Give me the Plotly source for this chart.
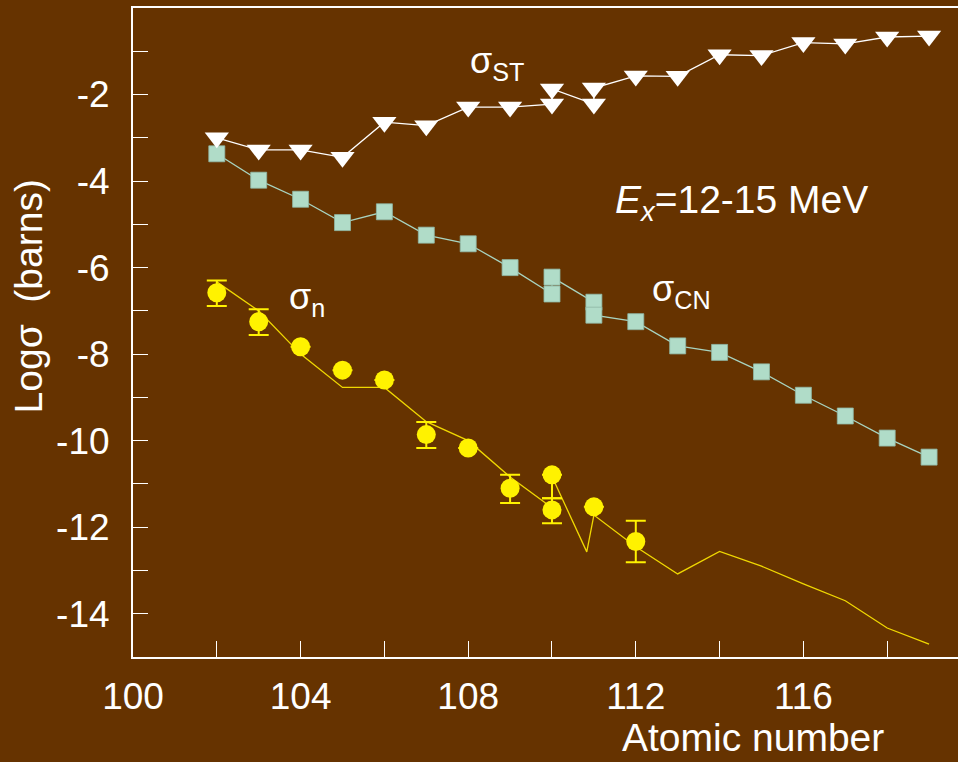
import plotly.graph_objects as go

# sigma_ST (triangles)
st_z = [102, 103, 104, 105, 106, 107, 108, 109, 110, 110, 111, 111, 112, 113, 114, 115, 116, 117, 118, 119]
st_v = [-3.0, -3.28, -3.28, -3.45, -2.64, -2.72, -2.29, -2.29, -2.22, -1.87, -2.22, -1.85, -1.57, -1.58, -1.08, -1.1, -0.8, -0.83, -0.67, -0.65]

# sigma_CN (squares)
cn_z = [102, 103, 104, 105, 106, 107, 108, 109, 110, 110, 111, 111, 112, 113, 114, 115, 116, 117, 118, 119]
cn_v = [-3.37, -3.98, -4.42, -4.96, -4.71, -5.25, -5.45, -6.0, -6.61, -6.22, -6.8, -7.1, -7.25, -7.81, -7.96, -8.41, -8.95, -9.43, -9.94, -10.38]

# sigma_n measured (circles) with asymmetric errors
n_z = [102, 103, 104, 105, 106, 107, 108, 109, 110, 110, 111, 112]
n_v = [-6.58, -7.25, -7.83, -8.37, -8.6, -9.86, -10.17, -11.1, -10.79, -11.6, -11.53, -12.33]
n_err_plus = [0.28, 0.29, 0, 0, 0, 0.29, 0, 0.31, 0, 0.27, 0, 0.48]
n_err_minus = [0.31, 0.31, 0, 0, 0, 0.31, 0, 0.34, 0.54, 0.31, 0, 0.48]

# sigma_n calculated (line)
th_z = [102, 103, 104, 105, 106, 107, 108, 109, 110, 110, 110.83, 111, 112, 113, 114, 115, 116, 117, 118, 119]
th_v = [-6.33, -7.0, -8.0, -8.77, -8.77, -9.56, -10.0, -10.84, -11.55, -10.83, -12.57, -11.72, -12.45, -13.08, -12.56, -12.9, -13.31, -13.7, -14.33, -14.7]

x_tick_vals = [100, 104, 108, 112, 116]
x_tick_text = ["100", "104", "108", "112", "116"]
y_tick_vals = [-14, -12, -10, -8, -6, -4, -2]
y_tick_text = ["-14", "-12", "-10", "-8", "-6", "-4", "-2"]

BG = "#663300"
FONT = "Liberation Sans, Arial, sans-serif"

fig = go.Figure()
fig.add_trace(go.Scatter(x=th_z, y=th_v, mode="lines",
                         line=dict(color="#F0D800", width=1.3), hoverinfo="skip"))
fig.add_trace(go.Scatter(x=n_z, y=n_v, mode="markers",
                         marker=dict(symbol="circle", size=19, color="#FFF200"),
                         error_y=dict(type="data", symmetric=False, array=n_err_plus,
                                      arrayminus=n_err_minus, color="#FFF200",
                                      thickness=2, width=10)))
fig.add_trace(go.Scatter(x=cn_z, y=cn_v, mode="lines+markers",
                         line=dict(color="#A8D4C0", width=1.3),
                         marker=dict(symbol="square", size=16, color="#B0DCC8",
                                     line=dict(color="#8FB8A5", width=0.8))))
fig.add_trace(go.Scatter(x=st_z, y=st_v, mode="lines+markers",
                         line=dict(color="white", width=1.3),
                         marker=dict(symbol="triangle-down", size=21, color="white")))

ann_font = dict(family=FONT, color="white")
fig.add_annotation(x=108.0, y=-1.28, xref="x", yref="y", xanchor="left", yanchor="middle",
                   text="σ<sub>ST</sub>", showarrow=False, font=dict(size=36, **ann_font))
fig.add_annotation(x=112.35, y=-6.55, xref="x", yref="y", xanchor="left", yanchor="middle",
                   text="σ<sub>CN</sub>", showarrow=False, font=dict(size=36, **ann_font))
fig.add_annotation(x=103.68, y=-6.72, xref="x", yref="y", xanchor="left", yanchor="middle",
                   text="σ<sub>n</sub>", showarrow=False, font=dict(size=36, **ann_font))
fig.add_annotation(x=111.45, y=-4.5, xref="x", yref="y", xanchor="left", yanchor="middle",
                   text="<i>E</i><sub><i>x</i></sub>=12-15 MeV", showarrow=False,
                   font=dict(size=39, **ann_font))
fig.add_annotation(x=0.7513, y=-0.1233, xref="paper", yref="paper", xanchor="center",
                   yanchor="middle", text="Atomic number", showarrow=False,
                   font=dict(size=39, **ann_font))
fig.add_annotation(x=-0.1265, y=0.555, xref="paper", yref="paper", xanchor="center",
                   yanchor="middle", text="Logσ\u00a0 (barns)", textangle=-90, showarrow=False,
                   font=dict(size=39, **ann_font))

fig.update_layout(
    width=958, height=762,
    margin=dict(l=133, r=0, t=8, b=105),
    paper_bgcolor=BG, plot_bgcolor=BG,
    showlegend=False,
    font=dict(family=FONT, color="white"),
    xaxis=dict(range=[100, 119.69], showgrid=False, zeroline=False,
               showline=True, linecolor="white", linewidth=2, mirror=True,
               tickvals=x_tick_vals, ticktext=x_tick_text,
               ticks="inside", ticklen=16, tickcolor="white", tickwidth=1.2,
               tickfont=dict(size=37, color="white", family=FONT), ticklabelstandoff=6,
               minor=dict(tick0=100, dtick=2, ticks="inside", ticklen=16, tickcolor="white", tickwidth=1.2)),
    yaxis=dict(range=[-15, 0], showgrid=False, zeroline=False,
               showline=True, linecolor="white", linewidth=2, mirror=False,
               tickvals=y_tick_vals, ticktext=y_tick_text,
               ticks="inside", ticklen=15, tickcolor="white", tickwidth=1.2,
               tickfont=dict(size=37, color="white", family=FONT), ticklabelstandoff=14,
               minor=dict(tick0=0, dtick=1, ticks="inside", ticklen=15, tickcolor="white", tickwidth=1.2)),
)

fig.write_html("out.html")
